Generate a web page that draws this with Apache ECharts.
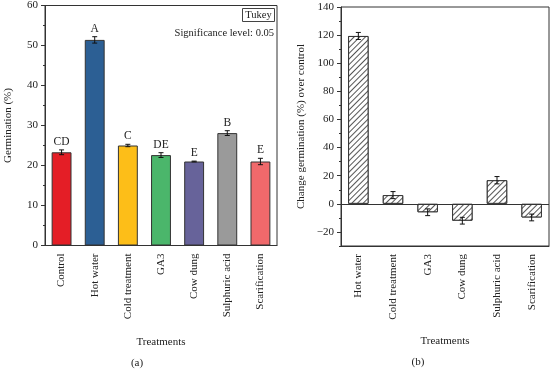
<!DOCTYPE html>
<html>
<head>
<meta charset="utf-8">
<script src="https://cdn.jsdelivr.net/npm/echarts@6/dist/echarts.min.js"></script>
<style>
  html, body { margin: 0; padding: 0; background: #fff; }
  #main { width: 550px; height: 369px; }
</style>
</head>
<body>
<div id="main"></div>
<script>
// panel (a) - germination per treatment
var treatmentsA = ['Control', 'Hot water', 'Cold treatment', 'GA3', 'Cow dung', 'Sulphuric acid', 'Scarification'];
var germination = [23.3, 51.4, 25.0, 22.6, 21.0, 28.1, 21.0];
var germErr = [0.6, 0.8, 0.3, 0.6, 0.1, 0.6, 0.8];
var tukeyLetters = ['CD', 'A', 'C', 'DE', 'E', 'B', 'E'];
var barColors = ['#e41e26', '#2c5f94', '#fdbe18', '#4bb66b', '#67639a', '#9a9a9a', '#f0696b'];
var ticksA = [0, 10, 20, 30, 40, 50, 60];

// panel (b) - change over control
var treatmentsB = ['Hot water', 'Cold treatment', 'GA3', 'Cow dung', 'Sulphuric acid', 'Scarification'];
var changePct = [119.4, 6.2, -6.0, -12.0, 16.8, -9.7];
var changeErr = [2.5, 2.5, 2.4, 2.4, 2.6, 2.4];
var ticksB = [-20, 0, 20, 40, 60, 80, 100, 120, 140];

var serif = 'Liberation Serif';
var ink = '#222';
var axisCol = '#333';

var chart = echarts.init(document.getElementById('main'));

function errData(vals, errs, letters) {
  var out = [];
  for (var i = 0; i < vals.length; i++) {
    out.push([i, vals[i] - errs[i], vals[i] + errs[i], letters ? letters[i] : '']);
  }
  return out;
}

function renderErr(params, api) {
  var x = api.value(0);
  var lo = api.coord([x, api.value(1)]);
  var hi = api.coord([x, api.value(2)]);
  var cap = 2.5;
  var st = { stroke: '#111', lineWidth: 1 };
  var kids = [
    { type: 'line', shape: { x1: lo[0], y1: lo[1], x2: hi[0], y2: hi[1] }, style: st },
    { type: 'line', shape: { x1: lo[0] - cap, y1: lo[1], x2: lo[0] + cap, y2: lo[1] }, style: st },
    { type: 'line', shape: { x1: hi[0] - cap, y1: hi[1], x2: hi[0] + cap, y2: hi[1] }, style: st }
  ];
  var txt = api.value(3);
  if (txt) {
    kids.push({
      type: 'text',
      style: {
        text: txt, x: hi[0], y: hi[1] - 2,
        align: 'center', verticalAlign: 'bottom',
        font: '11.5px "' + serif + '"', fill: ink
      }
    });
  }
  return { type: 'group', children: kids };
}

var axisLineStyle = { lineStyle: { color: axisCol, width: 1 } };
var lblStyle = { color: ink, fontFamily: serif, fontSize: 11 };

var option = {
  animation: false,
  backgroundColor: '#fff',
  grid: [
    { left: 45, top: 4, width: 232, height: 241.5, show: true, borderColor: axisCol, borderWidth: 1 },
    { left: 341, top: 7, width: 208, height: 239, show: true, borderColor: axisCol, borderWidth: 1 }
  ],
  xAxis: [
    {
      type: 'category', gridIndex: 0, data: treatmentsA,
      axisLine: axisLineStyle,
      axisTick: { alignWithLabel: true, length: 4, lineStyle: { color: axisCol } },
      axisLabel: Object.assign({ rotate: 90, margin: 8, interval: 0 }, lblStyle),
      name: 'Treatments', nameLocation: 'middle', nameGap: 91,
      nameTextStyle: { color: ink, fontFamily: serif, fontSize: 11 }
    },
    {
      type: 'category', gridIndex: 1, data: treatmentsB,
      axisLine: Object.assign({ onZero: false }, axisLineStyle),
      axisTick: { alignWithLabel: true, length: 4, lineStyle: { color: axisCol } },
      axisLabel: Object.assign({ rotate: 90, margin: 8, interval: 0 }, lblStyle),
      name: 'Treatments', nameLocation: 'middle', nameGap: 90,
      nameTextStyle: { color: ink, fontFamily: serif, fontSize: 11 }
    }
  ],
  yAxis: [
    {
      type: 'value', gridIndex: 0, min: ticksA[0], max: ticksA[ticksA.length - 1], interval: 10,
      axisLine: Object.assign({ show: true }, axisLineStyle),
      axisTick: { show: true, length: 4, lineStyle: { color: axisCol } },
      minorTick: { show: true, splitNumber: 2, length: 2, lineStyle: { color: axisCol } },
      splitLine: { show: false },
      axisLabel: Object.assign({ margin: 7 }, lblStyle),
      name: 'Germination (%)', nameLocation: 'middle', nameGap: 31,
      nameTextStyle: { color: ink, fontFamily: serif, fontSize: 11 }
    },
    {
      type: 'value', gridIndex: 1, min: -30, max: 140, interval: 10,
      axisLine: Object.assign({ show: true }, axisLineStyle),
      axisTick: { show: true, length: 2, lineStyle: { color: axisCol } },
      splitLine: { show: false },
      axisLabel: { show: false }
    },
    {
      type: 'value', gridIndex: 1, min: -30, max: 140, position: 'left',
      axisLine: { show: false },
      axisTick: { show: true, length: 4, customValues: ticksB, lineStyle: { color: axisCol } },
      splitLine: { show: false },
      axisLabel: Object.assign({ margin: 7, customValues: ticksB,
        formatter: function (v) { return v < 0 ? '\u2212' + (-v) : '' + v; } }, lblStyle),
      name: 'Change germination (%) over control', nameLocation: 'middle', nameGap: 34,
      nameTextStyle: { color: ink, fontFamily: serif, fontSize: 11 }
    }
  ],
  series: [
    {
      type: 'bar', xAxisIndex: 0, yAxisIndex: 0, barWidth: '60%',
      data: germination.map(function (v, i) {
        return { value: v, itemStyle: { color: barColors[i] } };
      }),
      itemStyle: { borderColor: '#333', borderWidth: 1 }
    },
    {
      type: 'custom', xAxisIndex: 0, yAxisIndex: 0, renderItem: renderErr,
      data: errData(germination, germErr, tukeyLetters), z: 5
    },
    {
      type: 'bar', xAxisIndex: 1, yAxisIndex: 1, barWidth: '59%',
      data: changePct,
      itemStyle: {
        color: '#fff', borderColor: '#333', borderWidth: 1,
        decal: {
          symbol: 'rect', symbolSize: 1, dashArrayX: [1, 0], dashArrayY: [0.8, 2.6],
          rotation: -Math.PI / 4, color: '#555', backgroundColor: '#fff'
        }
      },
      markLine: {
        silent: true, symbol: 'none', label: { show: false },
        lineStyle: { color: axisCol, width: 1, type: 'solid' },
        data: [{ yAxis: 0 }]
      }
    },
    {
      type: 'custom', xAxisIndex: 1, yAxisIndex: 1, renderItem: renderErr,
      data: errData(changePct, changeErr, null), z: 5
    }
  ],
  graphic: [
    { type: 'rect', shape: { x: 242.5, y: 8.5, width: 32, height: 13 },
      style: { fill: '#fff', stroke: '#444', lineWidth: 1 } },
    { type: 'text', x: 258.5, y: 15, style: { text: 'Tukey', align: 'center', verticalAlign: 'middle',
      font: '10.5px "' + serif + '"', fill: ink } },
    { type: 'text', x: 274, y: 33, style: { text: 'Significance level: 0.05', align: 'right', verticalAlign: 'middle',
      font: '10.5px "' + serif + '"', fill: ink } },
    { type: 'text', x: 137, y: 363, style: { text: '(a)', align: 'center', verticalAlign: 'middle',
      font: '11px "' + serif + '"', fill: ink } },
    { type: 'text', x: 418, y: 362, style: { text: '(b)', align: 'center', verticalAlign: 'middle',
      font: '11px "' + serif + '"', fill: ink } }
  ]
};

chart.setOption(option);
</script>
</body>
</html>
